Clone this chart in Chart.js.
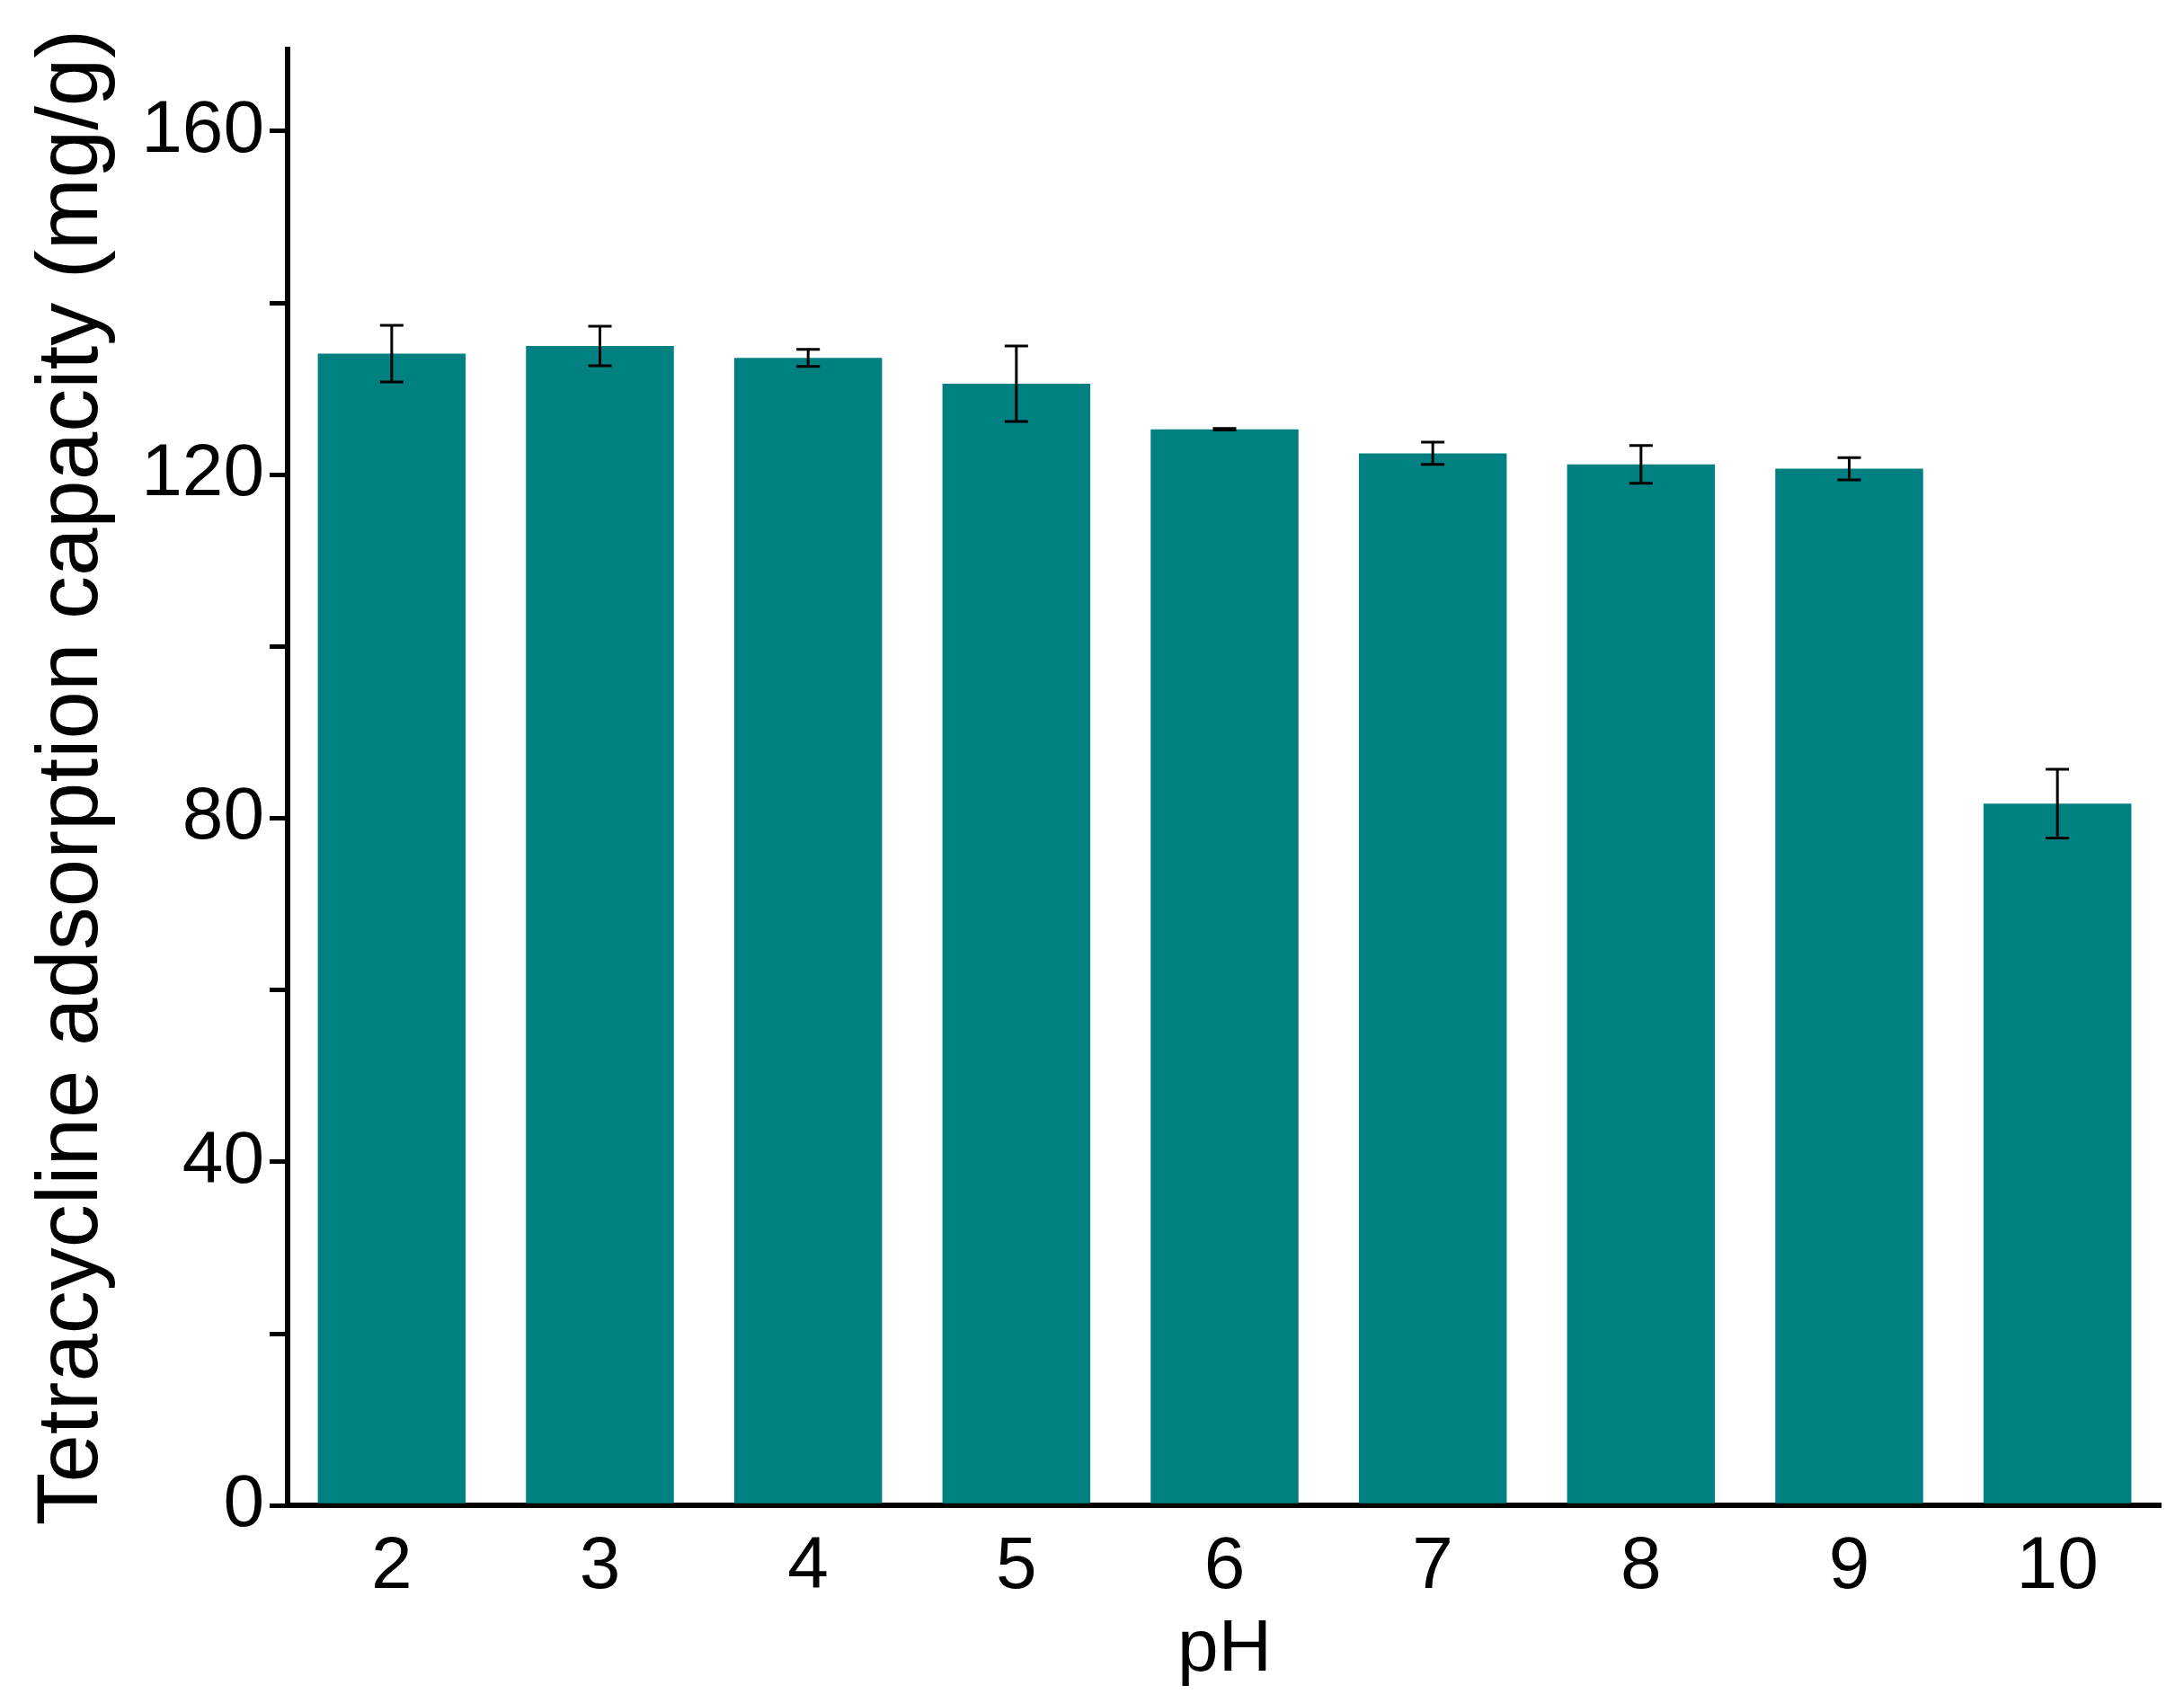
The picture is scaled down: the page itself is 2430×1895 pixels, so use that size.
<!DOCTYPE html>
<html><head><meta charset="utf-8">
<script src="https://cdn.jsdelivr.net/npm/chart.js@4"></script>
<style>html,body{margin:0;padding:0;background:#fff}#w{width:2430px;height:1895px}</style>
</head><body><div id="w"><canvas id="c"></canvas></div>
<script>
const categories=['2','3','4','5','6','7','8','9','10'];
const values=[134.1,135.0,133.6,130.6,125.3,122.5,121.2,120.7,81.7];
const errors=[3.3,2.3,1.0,4.4,0.1,1.3,2.2,1.3,4.0];
const yTickLabels=[0,40,80,120,160];
const errPlugin={id:'err',afterDatasetsDraw(ch){
  const ctx=ch.ctx,y=ch.scales.y,meta=ch.getDatasetMeta(0);
  ctx.save();ctx.strokeStyle='#000';ctx.lineWidth=3;
  meta.data.forEach((b,i)=>{const x=b.x,t=y.getPixelForValue(values[i]+errors[i]),bt=y.getPixelForValue(values[i]-errors[i]);
    ctx.beginPath();ctx.moveTo(x,t);ctx.lineTo(x,bt);ctx.moveTo(x-13,t);ctx.lineTo(x+13,t);ctx.moveTo(x-13,bt);ctx.lineTo(x+13,bt);ctx.stroke();});
  ctx.restore();}};
new Chart(document.getElementById('c'),{type:'bar',
data:{labels:categories,datasets:[{data:values,backgroundColor:'#008080',categoryPercentage:1,barPercentage:0.71}]},
options:{responsive:true,maintainAspectRatio:false,animation:false,
layout:{padding:{left:20,right:25,top:0,bottom:5}},
plugins:{legend:{display:false},tooltip:{enabled:false}},
scales:{
x:{grid:{display:true,drawOnChartArea:false,tickLength:16,color:'#000',lineWidth:0},border:{width:6,color:'#000'},
 ticks:{color:'#000',font:{family:'Liberation Sans',size:82},padding:4},
 title:{display:true,text:'pH',color:'#000',font:{family:'Liberation Sans',size:82},padding:{top:-10}}},
y:{min:0,max:169.5,grid:{drawOnChartArea:false,tickLength:20,color:'#000',lineWidth:5},border:{width:6,color:'#000'},
 ticks:{stepSize:20,color:'#000',font:{family:'Liberation Sans',size:82},padding:6,callback:v=>yTickLabels.includes(v)?String(v):''},
 afterBuildTicks:s=>{s.ticks=[0,20,40,60,80,100,120,140,160].map(v=>({value:v}));},
 title:{display:true,text:'Tetracycline adsorption capacity (mg/g)',color:'#000',font:{family:'Liberation Sans',size:96},padding:{bottom:12}}}
}},plugins:[errPlugin]});
</script></body></html>
